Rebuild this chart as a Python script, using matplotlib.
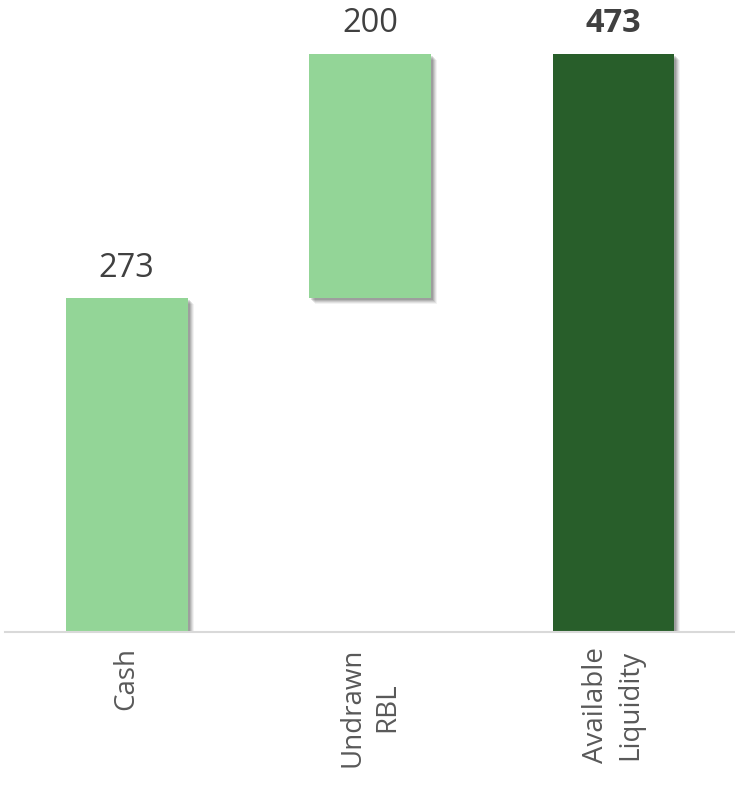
import matplotlib.pyplot as plt
from matplotlib.transforms import ScaledTranslation

# datos del gráfico (cascada de liquidez)
categorias = ["Cash", "Undrawn\nRBL", "Available\nLiquidity"]
valores = [273, 200, 473]
bases = [0, 273, 0]
colores = ["#93D597", "#93D597", "#285E2A"]
etiquetas = ["273", "200", "473"]
negrita = [False, False, True]

fig = plt.figure(figsize=(7.35, 7.97), dpi=100)
ax = fig.add_axes([5 / 735, 165 / 797, 730 / 735, 632 / 797])

x = list(range(len(categorias)))

# sombra difusa a la derecha/abajo de cada barra
for d, a in [(6, 0.05), (5, 0.07), (4, 0.09), (3, 0.11), (2, 0.12)]:
    sombra = ax.transData + ScaledTranslation(d / 100, -d / 100, fig.dpi_scale_trans)
    ax.bar(x, valores, bottom=bases, width=0.5, color="black", alpha=a,
           transform=sombra, zorder=1, linewidth=0)

ax.bar(x, valores, bottom=bases, width=0.5, color=colores, zorder=2, linewidth=0)

for xi, v, b, t, bold in zip(x, valores, bases, etiquetas, negrita):
    ax.annotate(t, (xi, v + b), xytext=(0, 10), textcoords="offset points",
                ha="center", va="bottom", fontsize=23.5, color="#404040",
                fontweight="bold" if bold else "normal",
                family=["Open Sans", "DejaVu Sans"])

ax.set_xlim(-0.5, 2.5)
ax.set_ylim(0, 632 / 1.222)
ax.set_xticks(x)
ax.set_xticklabels(categorias, rotation=90, fontsize=20, color="#595959",
                   family=["Open Sans", "DejaVu Sans"], multialignment="center",
                   linespacing=1.3)
ax.tick_params(axis="x", length=0, pad=11)
ax.set_yticks([])
for s in ["top", "right", "left"]:
    ax.spines[s].set_visible(False)
ax.spines["bottom"].set_color("#D9D9D9")
ax.spines["bottom"].set_linewidth(1.5)

fig.savefig("out.png", dpi=100)
